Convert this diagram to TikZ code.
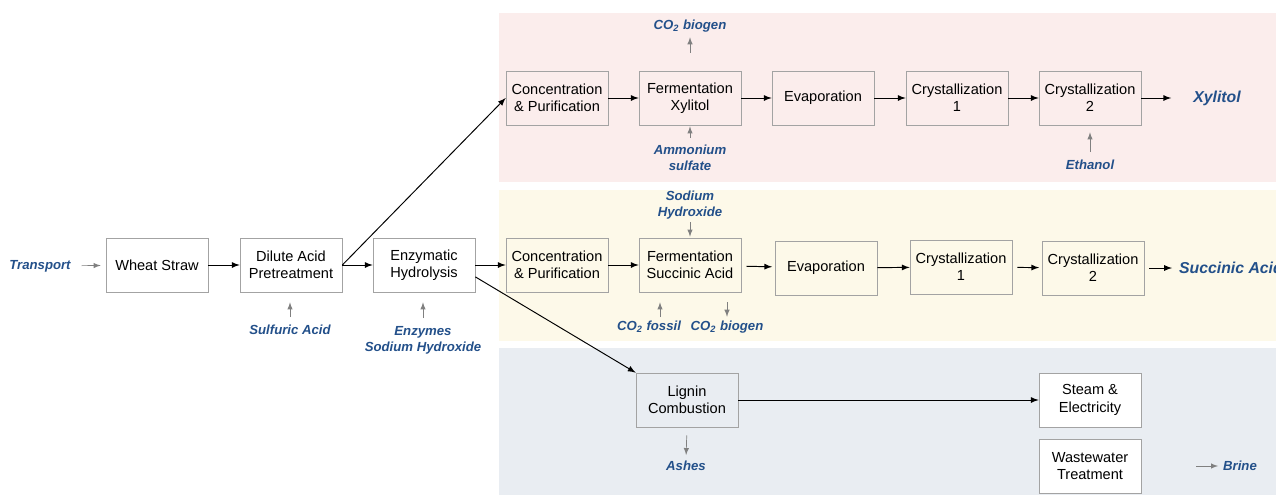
\documentclass[tikz,border=0pt]{standalone}
\usepackage{fontspec}
\setmainfont{Liberation Sans}
\usetikzlibrary{arrows}
\definecolor{labblue}{HTML}{23508A}
\definecolor{boxgrey}{HTML}{A3A3A3}
\definecolor{pinkband}{HTML}{FBEDEC}
\definecolor{yellowband}{HTML}{FDF9E9}
\definecolor{blueband}{HTML}{E9EDF2}
\begin{document}
\begin{tikzpicture}[x=0.02cm,y=-0.02cm,
  box/.style={draw=boxgrey,minimum width=2.04cm,minimum height=1.08cm,align=center,inner sep=1pt,font=\fontsize{8.3}{9.8}\selectfont},
  lab/.style={text=labblue,align=center,inner sep=1pt,font=\fontsize{7.5}{9}\selectfont\bfseries\itshape},
  prod/.style={lab,font=\fontsize{9}{11}\selectfont\bfseries\itshape},
  flow/.style={-latex,line width=0.55pt},
  feed/.style={-latex,line width=0.4pt,gray}]
\useasboundingbox (0,0) rectangle (1276,495);
\fill[pinkband] (499,13) rectangle (1276,182);
\fill[yellowband] (499,190) rectangle (1276,341);
\fill[blueband] (499,348) rectangle (1276,495);

\node[box,fill=white] (ws) at (157,265) {Wheat Straw};
\node[box,fill=white] (dap) at (291,265) {Dilute Acid\\Pretreatment};
\node[box,fill=white] (eh) at (424,265) {Enzymatic\\Hydrolysis};

\node[box] (cpx) at (557,98) {Concentration\\\& Purification};
\node[box] (fx) at (690,98) {Fermentation\\Xylitol};
\node[box] (evx) at (823,98) {Evaporation};
\node[box] (c1x) at (957,98) {Crystallization\\1};
\node[box] (c2x) at (1090,98) {Crystallization\\2};

\node[box] (cps) at (557,265) {Concentration\\\& Purification};
\node[box] (fs) at (690,265) {Fermentation\\Succinic Acid};
\node[box] (evs) at (826,268) {Evaporation};
\node[box] (c1s) at (961,267) {Crystallization\\1};
\node[box] (c2s) at (1093,268) {Crystallization\\2};

\node[box] (lc) at (687,400) {Lignin\\Combustion};
\node[box,fill=white] (se) at (1090,400) {Steam \&\\Electricity};
\node[box,fill=white] (wt) at (1090,466) {Wastewater\\Treatment};

\node[lab] (tr) at (40,266) {Transport};
\node[lab] (sa) at (290,330) {Sulfuric Acid};
\node[lab] (en) at (423,340) {Enzymes\\Sodium Hydroxide};
\node[lab] (cbx) at (690,26) {CO\textsubscript{2} biogen};
\node[lab] (as) at (690,158) {Ammonium\\sulfate};
\node[lab] (et) at (1090,165) {Ethanol};
\node[prod] (xy) at (1217,98) {Xylitol};
\node[lab] (sh) at (690,205) {Sodium\\Hydroxide};
\node[lab] (cf) at (649,327) {CO\textsubscript{2} fossil};
\node[lab] (cbs) at (727,327) {CO\textsubscript{2} biogen};
\node[prod,anchor=west] (sc) at (1177,268) {Succinic Acid};
\node[lab] (ash) at (686,466) {Ashes};
\node[lab] (br) at (1240,466) {Brine};
\coordinate (brs) at (1196,466);

\draw[flow] (ws) -- (dap);
\draw[flow] (dap) -- (eh);
\draw[flow] (eh) -- (cps);
\draw[flow] (dap.east) -- (cpx.west);
\draw[flow] (eh.-13) -- (lc.north west);
\draw[flow] (cpx) -- (fx);
\draw[flow] (fx) -- (evx);
\draw[flow] (evx) -- (c1x);
\draw[flow] (c1x) -- (c2x);
\draw[flow,shorten >=0.4cm] (c2x) -- (xy);
\draw[flow] (cps) -- (fs);
\draw[flow,shorten <=0.1cm,shorten >=0.05cm] (fs) -- (evs);
\draw[flow] (evs) -- (c1s);
\draw[flow,shorten <=0.1cm,shorten >=0.05cm] (c1s) -- (c2s);
\draw[flow,shorten <=0.1cm,shorten >=0.1cm] (c2s) -- (sc);
\draw[flow] (lc) -- (se);

\draw[feed,shorten <=0.18cm,shorten >=0.1cm] (tr) -- (ws);
\draw[feed,shorten <=0.12cm,shorten >=0.2cm] (sa.north) -- (sa |- dap.south);
\draw[feed,shorten <=0.12cm,shorten >=0.2cm] (en.north) -- (en |- eh.south);
\draw[feed,shorten <=0.36cm,shorten >=0.06cm] (fx.north) -- (cbx.south);
\draw[feed,shorten <=0.1cm,shorten >=0.02cm] (as.north) -- (fx.south);
\draw[feed,shorten <=0.12cm,shorten >=0.14cm] (et.north) -- (c2x.south);
\draw[feed,shorten <=0.02cm,shorten >=0.02cm] (sh.south) -- (fs.north);
\draw[feed,shorten <=0.04cm,shorten >=0.2cm] ([xshift=0.22cm]cf.north) -- ([xshift=0.22cm]cf.north |- fs.south);
\draw[feed,shorten <=0.2cm,shorten >=0.04cm] (cbs |- fs.south) -- (cbs.north);
\draw[feed,shorten <=0.16cm,shorten >=0.08cm] (lc.south) -- (ash.north);
\draw[feed,shorten >=0.06cm] (brs) -- (br);
\end{tikzpicture}
\end{document}
